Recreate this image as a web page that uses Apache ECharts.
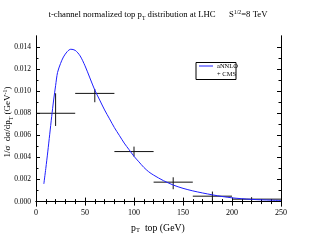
<!DOCTYPE html>
<html>
<head>
<meta charset="utf-8">
<script src="https://cdn.jsdelivr.net/npm/echarts@6/dist/echarts.min.js"></script>
<style>html,body{margin:0;padding:0;background:#fff}#c{width:316px;height:244px}</style>
</head>
<body>
<div id="c"></div>
<script>
// aNNLO theory curve
var curveX = [8,10,12,14,16,18,20,22,25,28,32,35.5,40,45,50,55,60,65,70,75,80,85,90,95,100,105,110,115,120,130,140,150,160,170,180,190,200,210,220,230,240,250];
var curveY = [0.0016,0.0030,0.0045,0.0061,0.0077,0.0092,0.0105,0.0117,0.0125,0.0131,0.0136,0.0138,0.0137,0.0132,0.0123,0.0112,0.0101,0.0092,0.0083,0.0075,0.0067,0.0060,0.0053,0.0047,0.0041,0.0036,0.0031,0.0027,0.0024,0.0019,0.0015,0.0012,0.00097,0.00078,0.00061,0.00046,0.00034,0.00026,0.0002,0.00016,0.00013,0.0001];
// CMS data
var binLow  = [0, 40, 80, 120, 160, 200];
var binHigh = [40, 80, 120, 160, 200, 250];
var binCenter = [20, 60, 100, 140, 180, 220];
var cmsVal  = [0.0080, 0.0098, 0.00453, 0.00176, 0.00049, 0.00022];
var cmsLow  = [0.00685, 0.0090, 0.00408, 0.00112, 0.00005, 0.00005];
var cmsHigh = [0.00981, 0.0102, 0.00498, 0.0022, 0.00091, 0.0004];
// ticks
var yMajor = [0, 0.002, 0.004, 0.006, 0.008, 0.010, 0.012, 0.014];
var yMinor = [0.001, 0.003, 0.005, 0.007, 0.009, 0.011, 0.013];

var serif = 'Liberation Serif';
var chart = echarts.init(document.getElementById('c'));
var curveData = curveX.map(function (x, i) { return [x, curveY[i]]; });
var cmsData = binCenter.map(function (x, i) { return [x, cmsVal[i], binLow[i], binHigh[i], cmsLow[i], cmsHigh[i]]; });

function yAx(pos, ticks, len, showLabel) {
  return {
    type: 'value', position: pos, min: -0.0004, max: 0.015,
    axisLine: { show: true, lineStyle: { color: '#000', width: 1 } },
    splitLine: { show: false },
    axisTick: { show: true, inside: true, length: len, customValues: ticks, lineStyle: { color: '#000' } },
    axisLabel: { show: showLabel, customValues: ticks, margin: 5, fontFamily: serif, fontSize: 7.5, color: '#000',
      formatter: function (v) { return v.toFixed(3); } }
  };
}
function xAx(pos, showLabel) {
  return {
    type: 'value', position: pos, min: 0, max: 250, interval: 50,
    axisLine: { show: true, lineStyle: { color: '#000', width: 1 } },
    splitLine: { show: false },
    axisTick: { show: true, inside: true, length: 4, lineStyle: { color: '#000' } },
    minorTick: { show: true, splitNumber: 5, length: 2.5, lineStyle: { color: '#000' } },
    axisLabel: { show: showLabel, margin: 3, fontFamily: serif, fontSize: 8, color: '#000' }
  };
}

var richStyles = function (main, small) {
  return {
    a: { fontFamily: serif, fontSize: main, lineHeight: 12, verticalAlign: 'middle', fill: '#000' },
    s: { fontFamily: serif, fontSize: small, lineHeight: 7, verticalAlign: 'bottom', fill: '#000' },
    p: { fontFamily: serif, fontSize: small, lineHeight: 7, verticalAlign: 'top', fill: '#000' }
  };
};

chart.setOption({
  animation: false,
  grid: { left: 36, right: 35, top: 36, bottom: 38 },
  xAxis: [xAx('bottom', true), xAx('top', false)],
  yAxis: [yAx('left', yMajor, 4, true), yAx('left', yMinor, 2.5, false), yAx('right', yMajor, 4, false), yAx('right', yMinor, 2.5, false)],
  series: [
    {
      type: 'line', data: curveData, smooth: 0.3, showSymbol: false,
      lineStyle: { color: '#1f1fff', width: 1 }, xAxisIndex: 0, yAxisIndex: 0
    },
    {
      type: 'custom', xAxisIndex: 0, yAxisIndex: 0, data: cmsData,
      renderItem: function (params, api) {
        var c = api.coord([api.value(0), api.value(1)]);
        var l = api.coord([api.value(2), api.value(1)]);
        var r = api.coord([api.value(3), api.value(1)]);
        var lo = api.coord([api.value(0), api.value(4)]);
        var hi = api.coord([api.value(0), api.value(5)]);
        var st = { stroke: '#111', lineWidth: 1 };
        return { type: 'group', children: [
          { type: 'line', shape: { x1: l[0], y1: l[1], x2: r[0], y2: r[1] }, style: st },
          { type: 'line', shape: { x1: c[0], y1: lo[1], x2: c[0], y2: hi[1] }, style: st }
        ]};
      }
    }
  ],
  graphic: [
    { type: 'text', x: 158, y: 15, style: {
      text: '{a|t-channel normalized top p}{s|T}{a| distribution at LHC}    {a|S}{p|1/2}{a|=8 TeV}',
      align: 'center', verticalAlign: 'middle', rich: richStyles(8.7, 5.8) } },
    { type: 'text', x: 158, y: 228, style: {
      text: '{a|p}{s|T}{a|  top (GeV)}', align: 'center', verticalAlign: 'middle',
      rich: richStyles(9.8, 6.5) } },
    { type: 'text', x: 8, y: 122, rotation: Math.PI / 2, style: {
      text: '{a|1/σ  dσ/dp}{s|T}{a| (GeV}{p|-1}{a|)}', align: 'center', verticalAlign: 'middle',
      rich: richStyles(9, 6) } },
    { type: 'rect', shape: { x: 196, y: 62.5, width: 40, height: 17 }, style: { fill: '#fff', stroke: '#000', lineWidth: 1 }, z: 10 },
    { type: 'line', shape: { x1: 199, y1: 66, x2: 213, y2: 66 }, style: { stroke: '#1f1fff', lineWidth: 1 }, z: 11 },
    { type: 'text', x: 217, y: 66, z: 11, style: { text: 'aNNLO', fontFamily: serif, fontSize: 6.5, fill: '#000', verticalAlign: 'middle' } },
    { type: 'text', x: 217, y: 74, z: 11, style: { text: '+ CMS', fontFamily: serif, fontSize: 6.5, fill: '#000', verticalAlign: 'middle' } }
  ]
});
</script>
</body>
</html>
